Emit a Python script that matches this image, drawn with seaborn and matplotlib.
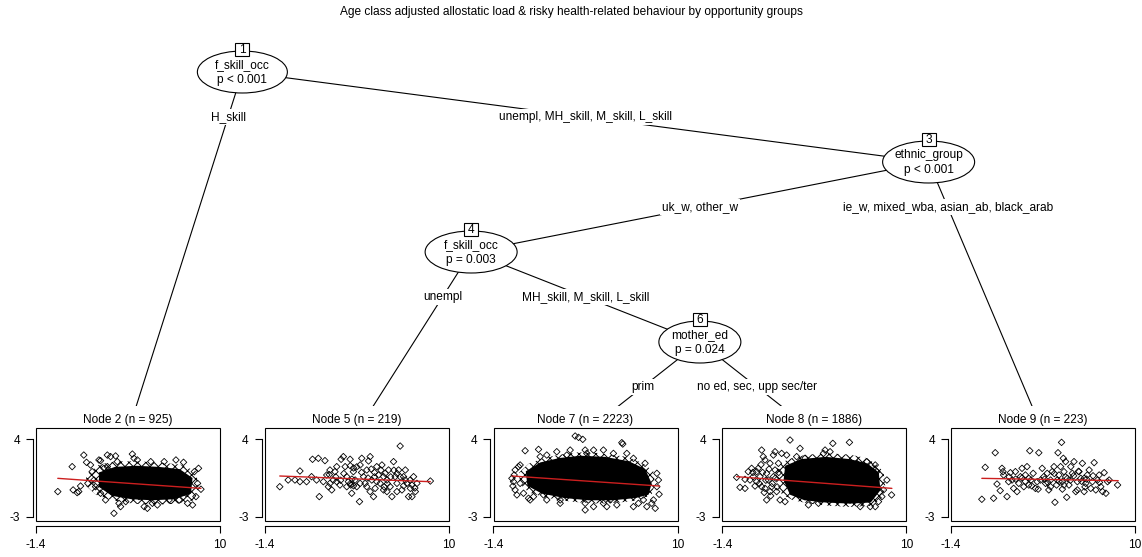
import matplotlib
matplotlib.use("Agg")
import matplotlib.pyplot as plt
from matplotlib.patches import Ellipse, Rectangle
import seaborn as sns

sns.set_style("white")
plt.rcParams["font.family"] = ["Liberation Sans", "DejaVu Sans"]
plt.rcParams["axes.unicode_minus"] = False
plt.rcParams["text.color"] = "black"
plt.rcParams["xtick.color"] = "black"
plt.rcParams["ytick.color"] = "black"
plt.rcParams["hatch.linewidth"] = 0.7

title = "Age class adjusted allostatic load & risky health-related behaviour by opportunity groups"

# inner nodes: split variable and p-value
inner_nodes = {1: ("f_skill_occ", "p < 0.001"), 3: ("ethnic_group", "p < 0.001"),
               4: ("f_skill_occ", "p = 0.003"), 6: ("mother_ed", "p = 0.024")}
edges = [(1, 2, "H_skill"), (1, 3, "unempl, MH_skill, M_skill, L_skill"),
         (3, 4, "uk_w, other_w"), (3, 9, "ie_w, mixed_wba, asian_ab, black_arab"),
         (4, 5, "unempl"), (4, 6, "MH_skill, M_skill, L_skill"),
         (6, 7, "prim"), (6, 8, "no ed, sec, upp sec/ter")]
terminal_ids = [2, 5, 7, 8, 9]
terminal_n = [925, 219, 2223, 1886, 223]

x_ticks = [-1.4, 10]
y_ticks = [-3, 4]

# fitted line end points per terminal node
fit_x0 = [-0.05, -0.47, -0.26, -0.51, 0.51]
fit_x1 = [8.82, 8.86, 8.88, 9.11, 8.96]
fit_y0 = [0.47, 0.68, 0.68, 0.62, 0.47]
fit_y1 = [-0.43, 0.17, -0.22, -0.43, 0.26]

# node 2: outer points, cloud outline and its densest part
node2_x = [-0.05, 0.84, 0.90, 1.25, 1.15, 1.56, 1.73, 1.36, 1.98, 2.08, 2.29, 2.50, 2.60, 2.70, 2.60,
           2.91, 3.02, 3.22, 3.53, 3.43, 3.64, 3.74, 4.16, 4.57, 4.67, 4.88, 4.98, 5.50, 5.71, 5.81,
           6.12, 6.54, 6.85, 7.27, 7.47, 7.74, 7.89, 7.99, 8.30, 8.41, 8.67, 8.82, 8.51, 2.19, 1.81,
           2.81, 3.02, 8.61, 5.30, 3.84]
node2_y = [-0.72, 1.52, -0.57, -0.72, -0.81, 2.56, 1.91, -0.22, 1.67, 1.07, -0.28, 2.12, 2.06, 0.32, -0.87,
           -1.47, 2.56, 2.42, 2.48, -2.67, 1.97, -1.77, -1.62, 2.65, 2.27, 2.12, -1.17, -2.22, 1.97, -1.77,
           -1.92, 1.97, -1.47, 2.12, -1.47, 1.91, -0.87, -1.77, -1.92, 1.07, 1.37, -0.51, -1.17, 0.32, 0.02,
           1.37, 1.52, 0.02, -2.07, -2.07]
node2_cloud_x = [1.7, 2.5, 3.5, 4.8, 6.2, 7.6, 8.5, 8.7, 8.4, 7.4, 6.0, 4.6, 3.3, 2.3, 1.7]
node2_cloud_y = [0.8, 1.7, 2.0, 2.0, 1.9, 1.7, 1.1, -0.4, -1.5, -1.8, -1.9, -1.8, -1.5, -1.0, -0.2]
node2_core_x = [2.5, 3.5, 4.8, 6.2, 7.5, 8.3, 8.2, 7.2, 5.8, 4.5, 3.3, 2.5]
node2_core_y = [1.0, 1.5, 1.6, 1.5, 1.3, 0.5, -0.9, -1.4, -1.5, -1.4, -1.1, -0.3]

node5_x = [-0.47, 0.05, 0.47, 0.78, 0.78, 1.19, 1.50, 1.56, 1.92, 1.98, 2.23, 2.33, 2.44, 2.54, 2.64,
           2.75, 2.85, 2.95, 3.06, 3.26, 3.33, 3.47, 3.58, 3.68, 3.78, 3.89, 3.93, 4.09, 4.20, 4.30,
           4.47, 4.51, 4.61, 4.72, 4.82, 4.92, 5.03, 5.13, 5.23, 5.34, 5.44, 5.54, 5.65, 5.75, 5.86,
           5.96, 6.06, 6.17, 6.27, 6.37, 6.48, 6.58, 6.68, 6.79, 6.89, 6.99, 7.10, 7.20, 7.31, 7.41,
           7.51, 7.62, 7.72, 7.82, 7.93, 8.03, 8.86, 3.68, 3.06, 2.64, 1.81, 3.99, 5.13, 6.17, 6.79,
           4.51, 4.92, 5.54, 5.96, 7.31, 7.72, 3.9, 4.1, 4.3, 5.2, 5.4, 5.4, 6.6, 6.8, 7.0, 3.9,
           4.1, 4.0, 5.0, 6.2, 6.0, 3.5, 3.0, 2.6, 7.6, 7.9, 4.6, 5.8, 6.4, 7.2, 3.3]
node5_y = [-0.28, 0.32, 0.32, 0.17, 1.13, 0.17, 0.62, 2.18, 2.27, -1.17, 0.17, 2.06, 0.77, -0.28, 1.22,
           -0.57, 0.32, 1.07, 1.52, -0.13, 2.18, 2.42, 1.52, 0.62, 0.17, 2.18, -0.13, 1.07, 0.32, -0.28,
           -1.62, 1.67, 2.27, 0.62, 0.02, 1.22, 2.03, 2.42, 0.32, -1.17, -0.43, 1.52, 0.77, 0.02, 1.67,
           -0.57, 0.92, 0.32, 1.22, -0.28, -1.17, 1.97, 0.62, 0.02, 1.22, 3.37, -0.57, 0.62, 1.22, 0.02,
           -1.17, -0.43, -0.13, 0.62, -0.72, 0.02, 0.23, -0.28, 0.17, 0.02, 0.32, -0.87, -0.72, -0.72, -0.72,
           0.02, -0.28, 0.17, 0.62, 0.32, -1.17, 1.6, 1.4, 1.5, 1.3, 1.0, 0.6, 1.2, 0.9, 0.6, 0.0,
           -0.2, 0.4, 0.5, 0.0, -0.3, 0.9, 0.6, 0.8, 0.3, -0.4, 1.0, 1.2, 0.6, -0.2, 0.3]

node7_x = [-0.26, -0.16, -0.20, -0.12, -0.06, 0.05, 0.15, 0.25, 0.56, 0.77, 0.87, 1.39, 1.49, 1.70, 1.90,
           2.52, 2.73, 3.14, 3.35, 3.66, 3.87, 4.13, 4.28, 4.28, 4.28, 4.38, 4.80, 4.80, 5.41, 5.41,
           6.03, 6.24, 6.55, 6.61, 6.86, 7.27, 7.58, 7.79, 7.99, 8.10, 8.41, 8.62, 8.72, 8.82, 8.86,
           8.51, 7.27, 5.62, 5.83, 2.73, 1.90, 1.08, 0.46, 7.89, 8.72, 0.25, -0.06]
node7_y = [0.47, 0.17, -0.22, 0.77, -0.57, -1.02, 1.52, 1.67, 2.95, -1.32, -1.47, 3.07, 2.42, -1.02, 2.56,
           2.86, -1.47, 2.56, 3.01, 4.27, 4.15, 3.97, 3.01, -1.77, -2.37, 2.71, 3.01, -2.07, 3.01, -1.77,
           2.71, -1.92, 3.67, 3.55, 2.71, 2.27, -1.77, 1.22, 1.82, -2.07, -1.77, -2.22, 0.92, 0.32, -0.96,
           -1.47, -2.07, -2.07, -1.47, -1.77, -1.47, -1.17, -0.87, -1.47, -0.28, 0.02, 1.22]
node7_cloud_x = [0.2, 0.8, 1.7, 2.7, 3.8, 4.8, 5.8, 6.9, 7.9, 8.5, 8.6, 8.4, 7.6, 6.4, 5.2, 4.0, 2.7,
                 1.7, 0.8, 0.2]
node7_cloud_y = [1.0, 1.8, 2.3, 2.6, 2.8, 2.8, 2.6, 2.4, 1.8, 1.1, 0.0, -1.0, -1.5, -1.7, -1.8, -1.7, -1.5,
                 -1.2, -0.8, 0.0]
node7_core_x = [0.6, 1.5, 2.7, 4.0, 5.5, 7.0, 8.0, 8.4, 8.2, 7.4, 6.0, 4.5, 3.0, 1.6, 0.7]
node7_core_y = [1.1, 1.9, 2.3, 2.5, 2.4, 2.0, 1.3, 0.0, -1.0, -1.3, -1.5, -1.5, -1.3, -0.9, -0.2]

node8_x = [-0.51, -0.30, 0.01, 0.01, 0.21, 0.42, 0.73, 0.73, 0.83, 1.04, 1.14, 1.25, 1.35, 1.46, 1.56,
           1.66, 1.77, 1.87, 1.97, 2.08, 2.18, 2.28, 2.49, 2.59, 2.80, 3.21, 3.42, 3.73, 3.94, 4.56,
           4.87, 4.97, 5.28, 5.45, 5.70, 6.48, 6.52, 6.94, 7.15, 7.56, 7.77, 8.08, 8.18, 8.28, 8.49,
           8.59, 9.09, 8.80, 0.32, 0.52, 0.94, 1.04, 1.35, 1.77, 1.87, 1.56, 1.25, 0.63, 7.35, 8.08,
           0.9, 1.1, 1.3, 1.5, 1.7, 1.9, 2.0, 1.2, 1.6, 2.1, 0.5, 1.0]
node8_y = [0.56, -0.34, 0.38, -0.43, 1.07, 1.37, 1.07, 0.17, 1.37, 3.01, 2.42, 2.12, -1.47, 0.32, 1.82,
           -0.28, 2.56, 2.86, -0.72, 1.82, -1.47, 2.71, -1.62, 2.56, 3.91, 2.42, 3.16, 2.27, -1.92, -1.77,
           2.71, 3.01, 2.86, 3.61, 1.97, 3.70, -1.47, 1.82, -2.07, 1.97, -2.07, 1.67, 1.07, -1.62, -1.17,
           -0.57, -1.02, 0.32, 0.32, 0.62, 0.62, -0.28, 0.92, 0.62, 1.22, -0.72, -0.43, -0.22, 1.67, -2.07,
           0.0, 1.0, 0.3, 1.3, 0.0, 0.5, -0.3, -0.8, -1.1, 1.0, 1.0, 1.7]
node8_cloud_x = [2.0, 2.7, 3.8, 5.3, 6.5, 7.5, 8.2, 8.6, 8.7, 8.5, 7.9, 6.5, 5.3, 4.0, 3.0, 2.3, 1.9]
node8_cloud_y = [1.6, 2.2, 2.6, 2.7, 2.6, 2.3, 1.7, 1.0, -0.3, -1.3, -2.0, -2.1, -2.0, -1.8, -1.5, -1.0, 0.3]
node8_core_x = [2.5, 3.5, 5.0, 6.5, 7.6, 8.3, 8.4, 7.8, 6.5, 5.0, 3.7, 2.8, 2.4]
node8_core_y = [1.6, 2.2, 2.4, 2.2, 1.8, 1.0, -0.6, -1.7, -1.8, -1.7, -1.5, -1.0, 0.3]

node9_x = [0.51, 0.72, 1.24, 1.34, 1.45, 1.65, 1.76, 1.82, 1.86, 2.07, 2.17, 2.28, 2.38, 2.48, 2.59,
           2.69, 2.80, 2.90, 3.00, 3.11, 3.21, 3.31, 3.42, 3.48, 3.56, 3.69, 3.83, 4.04, 4.15, 4.25,
           4.35, 4.46, 4.56, 4.66, 4.77, 4.87, 4.98, 5.04, 5.14, 5.23, 5.29, 5.39, 5.45, 5.50, 5.56,
           5.60, 5.70, 5.77, 5.81, 5.91, 6.02, 6.12, 6.22, 6.33, 6.43, 6.53, 6.64, 6.74, 6.85, 6.95,
           7.05, 7.16, 7.26, 7.36, 7.47, 7.57, 7.68, 7.78, 7.88, 7.99, 8.09, 8.20, 8.30, 8.40, 8.92,
           3.42, 3.94, 4.77, 5.60, 6.43, 6.85, 5.18, 3.0, 3.2, 3.6, 4.4, 4.6, 5.0, 5.3, 5.7,
           6.0, 6.2, 6.5, 6.7, 7.0, 7.4, 7.8, 2.6, 2.2, 4.0, 5.5, 6.9]
node9_y = [-1.41, 1.46, -1.32, 2.77, -0.04, -0.63, 1.37, 1.07, 0.77, -1.17, 0.17, 0.98, 0.32, -0.43, 1.07,
           -0.72, 0.02, 0.62, 1.37, -0.28, 0.77, 1.52, -0.13, 2.95, 0.32, 0.92, -0.43, 2.77, 0.32, 1.37,
           0.62, 0.02, 0.92, -0.57, 0.32, 1.07, 1.52, -1.68, -0.13, 2.77, 0.77, 1.52, 3.70, 0.17, 2.27,
           1.07, 1.97, -1.23, 0.47, -0.13, 1.52, 0.92, 1.97, -0.72, 0.17, 1.07, 0.47, 1.82, -0.72, 0.02,
           0.77, 1.22, -0.43, 0.17, 1.88, -0.57, 0.32, 0.77, -0.28, -0.72, 0.98, -0.87, 0.17, 0.32, -0.13,
           0.47, 0.17, -0.28, -0.13, -0.57, 0.47, 0.32, 0.5, 0.2, -0.2, 0.4, 0.1, 0.9, 0.2, 0.6,
           0.3, 0.7, 1.1, 0.2, 0.4, 0.7, 0.1, 0.4, 0.6, -0.5, -0.5, -0.3]

points_x = [node2_x, node5_x, node7_x, node8_x, node9_x]
points_y = [node2_y, node5_y, node7_y, node8_y, node9_y]
clouds = [(node2_cloud_x, node2_cloud_y), None, (node7_cloud_x, node7_cloud_y),
          (node8_cloud_x, node8_cloud_y), None]
cores = [(node2_core_x, node2_core_y), None, (node7_core_x, node7_core_y),
         (node8_core_x, node8_core_y), None]

W, H = 1142, 557
FS = 8.6
fig = plt.figure(figsize=(W / 100, H / 100), dpi=100)

# tree layout in pixel space
tree = fig.add_axes([0, 0, 1, 1])
tree.set_xlim(0, W)
tree.set_ylim(H, 0)
tree.axis("off")

children = {}
depth = {1: 0}
for p, c, _ in edges:
    children.setdefault(p, []).append(c)
    depth[c] = depth[p] + 1


def leaves(n):
    if n not in children:
        return [n]
    out = []
    for c in children[n]:
        out += leaves(c)
    return out


step = 228.75
level = 90
top_y = 72
term_x = {t: 128 + step * i for i, t in enumerate(terminal_ids)}
pos = {}
for n in depth:
    if n in children:
        last = leaves(children[n][0])[-1]
        pos[n] = (term_x[last] + step / 2, top_y + level * depth[n])
    else:
        pos[n] = (term_x[n], top_y + level * 4)

for p, c, lab in edges:
    (px, py), (cx, cy) = pos[p], pos[c]
    tree.plot([px, cx], [py, cy], color="black", lw=0.8, zorder=1)
    t = (level / 2) / (cy - py)
    tree.text(px + (cx - px) * t, py + level / 2, lab, ha="center", va="center", fontsize=FS,
              zorder=4, bbox=dict(boxstyle="square,pad=0.15", fc="white", ec="none"))

tree.add_patch(Rectangle((0, 406), W, H - 406, fc="white", ec="none", zorder=2))

ell_w = {1: 90, 3: 92, 4: 92, 6: 82}
for n, (var, pval) in inner_nodes.items():
    x, y = pos[n]
    tree.add_patch(Ellipse((x, y), ell_w[n], 42, fc="white", ec="black", lw=0.8, zorder=3))
    tree.text(x, y - 7, var, ha="center", va="center", fontsize=FS, zorder=5)
    tree.text(x, y + 8, pval, ha="center", va="center", fontsize=FS, zorder=5)
    tree.add_patch(Rectangle((x - 7, y - 21 - 8), 14, 13, fc="white", ec="black", lw=0.8, zorder=4))
    tree.text(x, y - 22, str(n), ha="center", va="center", fontsize=FS, zorder=5)

fig.text(0.5, 1 - 12 / H, title, ha="center", va="center", fontsize=FS)

# terminal panels
for i, t in enumerate(terminal_ids):
    left = 36 + step * i
    ax = fig.add_axes([left / W, (H - 521) / H, 184 / W, 93 / H])
    ax.set_facecolor("white")
    if clouds[i] is not None:
        ax.fill(clouds[i][0], clouds[i][1], facecolor="none", edgecolor="black", hatch="xxxx",
                lw=0, zorder=1)
        ax.fill(cores[i][0], cores[i][1], color="black", lw=0, zorder=1)
    sns.scatterplot(x=points_x[i], y=points_y[i], ax=ax, marker="D", s=11,
                    facecolor="none", edgecolor="black", linewidth=0.6, legend=False, zorder=2)
    sns.lineplot(x=[fit_x0[i], fit_x1[i]], y=[fit_y0[i], fit_y1[i]], ax=ax,
                 color="#cc1f1f", lw=1)
    ax.lines[-1].set_zorder(6)
    ax.set_xlim(x_ticks[0], x_ticks[1])
    ax.set_ylim(-3.36, 4.99)
    ax.set_xticks(x_ticks)
    ax.set_xticklabels(["-1.4", "10"])
    ax.set_yticks(y_ticks)
    ax.set_yticklabels(["-3", "4"])
    for s in ["top", "right"]:
        ax.spines[s].set_visible(False)
    ax.spines["left"].set_position(("outward", 2.2))
    ax.spines["left"].set_bounds(-3, 4)
    ax.spines["bottom"].set_position(("outward", 3.6))
    ax.spines["bottom"].set_bounds(-1.4, 10)
    for s in ["left", "bottom"]:
        ax.spines[s].set_color("black")
        ax.spines[s].set_linewidth(0.8)
    ax.tick_params(axis="both", length=5, width=0.8, pad=4.3, labelsize=FS, direction="out",
                   left=True, bottom=True)
    ax.add_patch(Rectangle((0, 0), 1, 1, transform=ax.transAxes, fill=False, ec="black",
                           lw=0.8, clip_on=False, zorder=7))
    ax.set_xlabel("")
    ax.set_ylabel("")
    tree.text(term_x[t], 420, f"Node {t} (n = {terminal_n[i]})", ha="center", va="center",
              fontsize=FS, zorder=5)

fig.savefig("out.png", dpi=100)
